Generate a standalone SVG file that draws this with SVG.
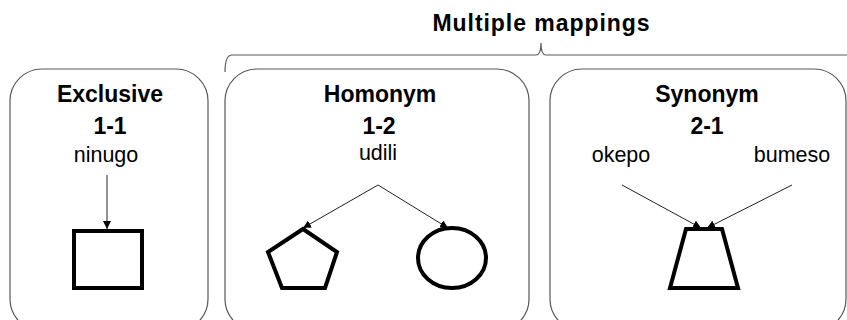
<svg xmlns="http://www.w3.org/2000/svg" width="847" height="320" viewBox="0 0 847 320">
<defs>
<style>
.box{fill:#fff;stroke:#595959;stroke-width:1.2}
.title{font-family:"Liberation Sans",Arial,sans-serif;font-weight:bold;font-size:23px;fill:#000;text-anchor:middle}
.word{font-family:"Liberation Sans",Arial,sans-serif;font-size:21.5px;fill:#000;text-anchor:middle}
.shape{fill:none;stroke:#000;stroke-width:4}
.conn{stroke:#222;stroke-width:1;fill:none;marker-end:url(#ah)}
</style>
<marker id="ah" viewBox="0 0 10 10" refX="10" refY="5" markerWidth="8" markerHeight="8" markerUnits="userSpaceOnUse" orient="auto">
<path d="M0,0 L10,5 L0,10 z" fill="#000"/>
</marker>
</defs>
<rect width="847" height="320" fill="#fff"/>
<g id="brace">
<text class="title" x="541" y="31" font-size="22" textLength="217" lengthAdjust="spacing">Multiple mappings</text>
<path d="M225,72 Q225,55 232,55 L536,55 Q541,55 541,43 Q541,55 546,55 L847,55" fill="none" stroke="#595959" stroke-width="1.2"/>
</g>
<g id="exclusive">
<rect class="box" x="10" y="69" width="198" height="262" rx="32"/>
<text class="title" x="110" y="102">Exclusive</text>
<text class="title" x="110" y="134">1-1</text>
<text class="word" x="106" y="162">ninugo</text>
<rect class="shape" x="74" y="231" width="68" height="57"/>
</g>
<g id="homonym">
<rect class="box" x="225" y="69" width="304" height="262" rx="32"/>
<text class="title" x="380" y="102">Homonym</text>
<text class="title" x="379" y="134">1-2</text>
<text class="word" x="378" y="160">udili</text>
<polygon class="shape" points="303,229 337,252 325,288 282,288 268,252"/>
<ellipse class="shape" cx="452" cy="258" rx="34" ry="30"/>
</g>
<g id="synonym">
<rect class="box" x="550" y="69" width="296" height="262" rx="32"/>
<text class="title" x="707" y="102">Synonym</text>
<text class="title" x="707" y="134">2-1</text>
<text class="word" x="621" y="162">okepo</text>
<text class="word" x="792" y="162">bumeso</text>
<polygon class="shape" points="686,229 722,229 738,288 670,288"/>
</g>
<g id="connectors">
<line class="conn" x1="107" y1="175" x2="107" y2="229"/>
<line class="conn" x1="378" y1="185" x2="303" y2="228"/>
<line class="conn" x1="378" y1="185" x2="448" y2="228"/>
<line class="conn" x1="622" y1="185" x2="701" y2="228"/>
<line class="conn" x1="792" y1="185" x2="707" y2="228"/>
</g>
</svg>
